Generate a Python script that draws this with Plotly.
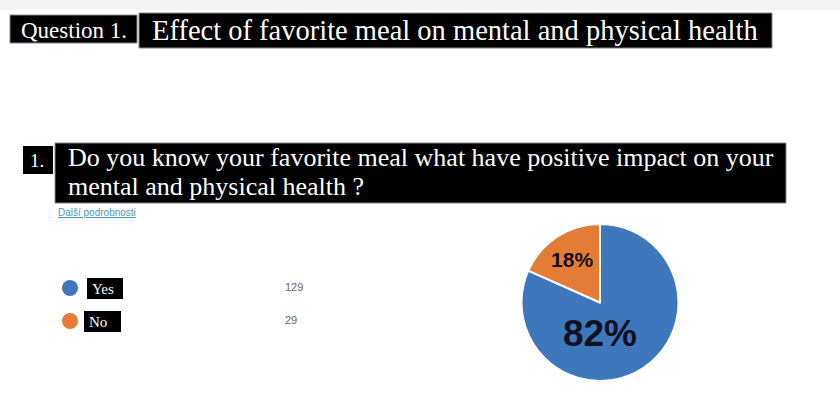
import plotly.graph_objects as go

categories = ["Yes", "No"]
counts = [129, 29]
colors = ["#3f77bd", "#e47c35"]
pct_font_sizes = [37, 21]

W, H = 840, 398
SERIF = "Liberation Serif, Times New Roman, serif"
SANS = "Liberation Sans, Arial, sans-serif"

fig = go.Figure()

# Pie chart
fig.add_trace(go.Pie(
    labels=categories,
    values=counts,
    sort=False,
    direction="clockwise",
    rotation=0,
    marker=dict(colors=colors, line=dict(color="white", width=2)),
    texttemplate="<b>%{percent:.0%}</b>",
    textposition="inside",
    insidetextorientation="horizontal",
    textfont=dict(family=SANS, size=pct_font_sizes, color="#111122"),
    domain=dict(x=[520 / W, 680 / W], y=[1 - 381 / H, 1 - 224 / H]),
    showlegend=False,
    hoverinfo="label+value+percent",
))

# Legend dots (drawn from category data)
legend_y = [288, 321]
fig.add_trace(go.Scatter(
    x=[70] * len(categories),
    y=legend_y,
    mode="markers",
    marker=dict(size=16, color=colors),
    showlegend=False,
    hoverinfo="skip",
    xaxis="x", yaxis="y",
))
# Counts
fig.add_trace(go.Scatter(
    x=[285] * len(categories),
    y=legend_y,
    mode="text",
    text=[str(c) for c in counts],
    textposition="middle right",
    textfont=dict(family=SANS, size=11, color="#666666"),
    showlegend=False,
    hoverinfo="skip",
    xaxis="x", yaxis="y",
))

shapes = [
    # light top band
    dict(type="rect", x0=0, x1=W, y0=0, y1=10, fillcolor="#f4f4f4", line=dict(width=0), layer="below"),
    # title boxes
    dict(type="rect", x0=10, x1=137, y0=15, y1=43, fillcolor="black", line=dict(color="#888", width=1)),
    dict(type="rect", x0=139, x1=772, y0=13, y1=48, fillcolor="black", line=dict(color="#888", width=1)),
    # question boxes
    dict(type="rect", x0=23, x1=53, y0=146, y1=174, fillcolor="black", line=dict(width=0)),
    dict(type="rect", x0=55, x1=786, y0=143, y1=203, fillcolor="black", line=dict(color="#888", width=1)),
]
# legend label boxes
box_x = [[87, 123], [84, 121]]
for i, cat in enumerate(categories):
    shapes.append(dict(type="rect", x0=box_x[i][0], x1=box_x[i][1], y0=legend_y[i] - 10, y1=legend_y[i] + 11,
                       fillcolor="black", line=dict(width=0)))

annotations = [
    dict(x=19, y=30, text="Question 1.", font=dict(family=SERIF, size=23, color="white")),
    dict(x=150, y=30, text="Effect of favorite meal on mental and physical health",
         font=dict(family=SERIF, size=28.5, color="white")),
    dict(x=28, y=160, text="1.", font=dict(family=SERIF, size=19, color="white")),
    dict(x=66, y=157, text="Do you know your favorite meal what have positive impact on your",
         font=dict(family=SERIF, size=26, color="white")),
    dict(x=66, y=186, text="mental and physical health ?",
         font=dict(family=SERIF, size=26, color="white")),
    dict(x=56, y=212, text="<u>Další podrobnosti</u>", font=dict(family=SANS, size=10, color="#4f97b8")),
]
for i, cat in enumerate(categories):
    annotations.append(dict(x=box_x[i][0] + 3, y=legend_y[i] + 0.5, text=cat,
                            font=dict(family=SERIF, size=15, color="white")))

for a in annotations:
    a.update(xref="x", yref="y", xanchor="left", yanchor="middle", showarrow=False)

fig.update_layout(
    width=W, height=H,
    margin=dict(l=0, r=0, t=0, b=0),
    paper_bgcolor="white",
    plot_bgcolor="rgba(0,0,0,0)",
    xaxis=dict(range=[0, W], visible=False, fixedrange=True),
    yaxis=dict(range=[H, 0], visible=False, fixedrange=True),
    shapes=shapes,
    annotations=annotations,
)

fig.write_html("out.html", config={"displayModeBar": False},
               post_script="document.body.style.margin='0';document.body.style.overflow='hidden';")
